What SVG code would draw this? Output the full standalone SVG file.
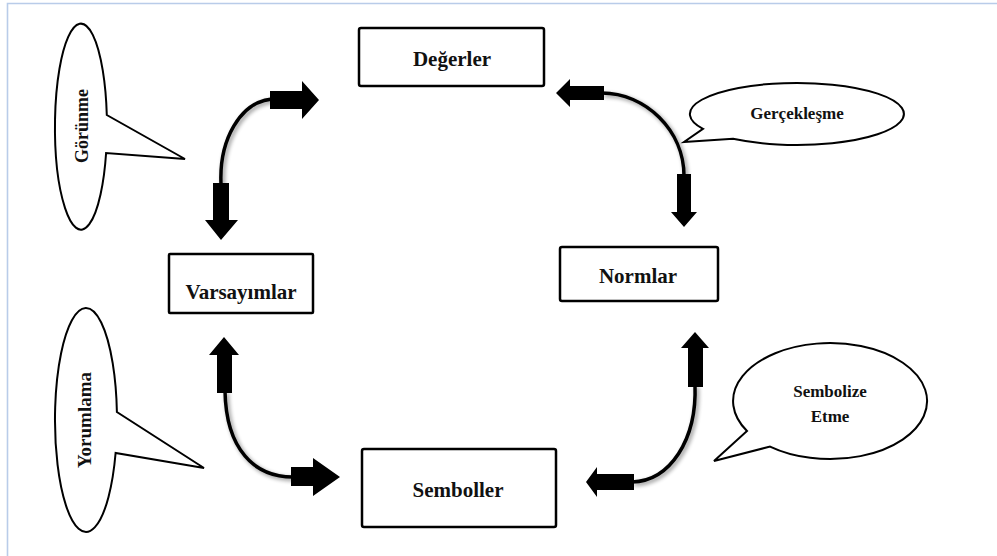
<svg xmlns="http://www.w3.org/2000/svg" width="997" height="556" viewBox="0 0 997 556">
<style>
  .box { fill: #fff; stroke: #000; stroke-width: 2.5; }
  .lbl { font-family: "Liberation Serif", "Times New Roman", serif; font-weight: bold; font-size: 21px; fill: #111; text-anchor: middle; }
  .call { fill: #fff; stroke: #000; stroke-width: 2; stroke-linejoin: miter; }
  .ctext { font-family: "Liberation Serif", "Times New Roman", serif; font-weight: bold; font-size: 17px; fill: #111; text-anchor: middle; }
  .curve { fill: none; stroke: #000; stroke-width: 3.5; stroke-linecap: butt; }
  .head { fill: #000; }
  .frame { stroke: #b9cce9; stroke-width: 1.6; fill: none; }
</style>
<defs>
  <filter id="glow" x="-20%" y="-20%" width="140%" height="140%">
    <feGaussianBlur in="SourceAlpha" stdDeviation="2.2" result="b"/>
    <feOffset dx="1.5" dy="1.5" in="b" result="o"/>
    <feComponentTransfer in="o" result="s"><feFuncA type="linear" slope="0.45"/></feComponentTransfer>
    <feMerge><feMergeNode in="s"/><feMergeNode in="SourceGraphic"/></feMerge>
  </filter>
</defs>
<rect x="0" y="0" width="997" height="556" fill="#fff"/>
<path class="frame" d="M7.5,556 V3.5 H997"/>

<g id="connectors">
  <!-- top-left: Varsayımlar <-> Değerler -->
  <path class="curve" filter="url(#glow)" d="M272,99 C240,102 219,140 221,184"/>
  <polygon class="head" points="270,91 302,91 302,81 319,100 302,119 302,109 270,109"/>
  <polygon class="head" points="213,183 229,183 229,220 238,220 221,240 205,220 213,220"/>
  <!-- top-right: Değerler <-> Normlar -->
  <path class="curve" filter="url(#glow)" d="M602,93 C645,93 684,130 684,176"/>
  <polygon class="head" points="604,86 570,86 570,79 556,93 570,107 570,100 604,100"/>
  <polygon class="head" points="677,174 691,174 691,212 697,212 684,227 671,212 677,212"/>
  <!-- bottom-left: Varsayımlar <-> Semboller -->
  <path class="curve" filter="url(#glow)" d="M225,391 C226,450 255,477 293,477"/>
  <polygon class="head" points="217,393 232,393 232,355 239,355 224,337 209,355 217,355"/>
  <polygon class="head" points="291,467 313,467 313,458 340,477 313,496 313,486 291,486"/>
  <!-- bottom-right: Normlar <-> Semboller -->
  <path class="curve" filter="url(#glow)" d="M695,385 C697,440 670,481 632,482"/>
  <polygon class="head" points="688,387 703,387 703,348 709,348 695,332 681,348 688,348"/>
  <polygon class="head" points="634,474 597,474 597,467 586,482 597,497 597,490 634,490"/>
</g>

<g id="degerler">
  <rect class="box" x="359" y="28" width="185" height="58" rx="2"/>
  <text class="lbl" x="452" y="66">Değerler</text>
</g>
<g id="normlar">
  <rect class="box" x="560" y="247" width="158" height="54" rx="2"/>
  <text class="lbl" x="638" y="283">Normlar</text>
</g>
<g id="varsayimlar">
  <rect class="box" x="169" y="254" width="144" height="59" rx="1"/>
  <text class="lbl" x="241" y="299">Varsayımlar</text>
</g>
<g id="semboller">
  <rect class="box" x="362" y="449" width="194" height="78" rx="2"/>
  <text class="lbl" x="458" y="497">Semboller</text>
</g>

<g id="gorunme">
  <path class="call" d="M106.8,115 A26,103 0 1 0 106.1,153 L185,159 Z"/>
  <text class="ctext" style="font-size:18px" transform="translate(88,126) rotate(-90)" x="0" y="0">Görünme</text>
</g>
<g id="yorumlama">
  <path class="call" d="M116.9,412 A31,112 0 1 0 115.6,453 L204,468 Z"/>
  <text class="ctext" style="font-size:19px" transform="translate(91,420) rotate(-90)" x="0" y="0">Yorumlama</text>
</g>
<g id="gerceklesme">
  <path class="call" d="M703,128.8 A107,31 0 1 1 733,138.8 L684,142 Z"/>
  <text class="ctext" x="797" y="119">Gerçekleşme</text>
</g>
<g id="sembolize">
  <path class="call" d="M747,431 A97,58 0 1 1 770,446.6 L714,461 Z"/>
  <text class="ctext" x="830" y="397">Sembolize</text>
  <text class="ctext" x="830" y="422">Etme</text>
</g>
</svg>
